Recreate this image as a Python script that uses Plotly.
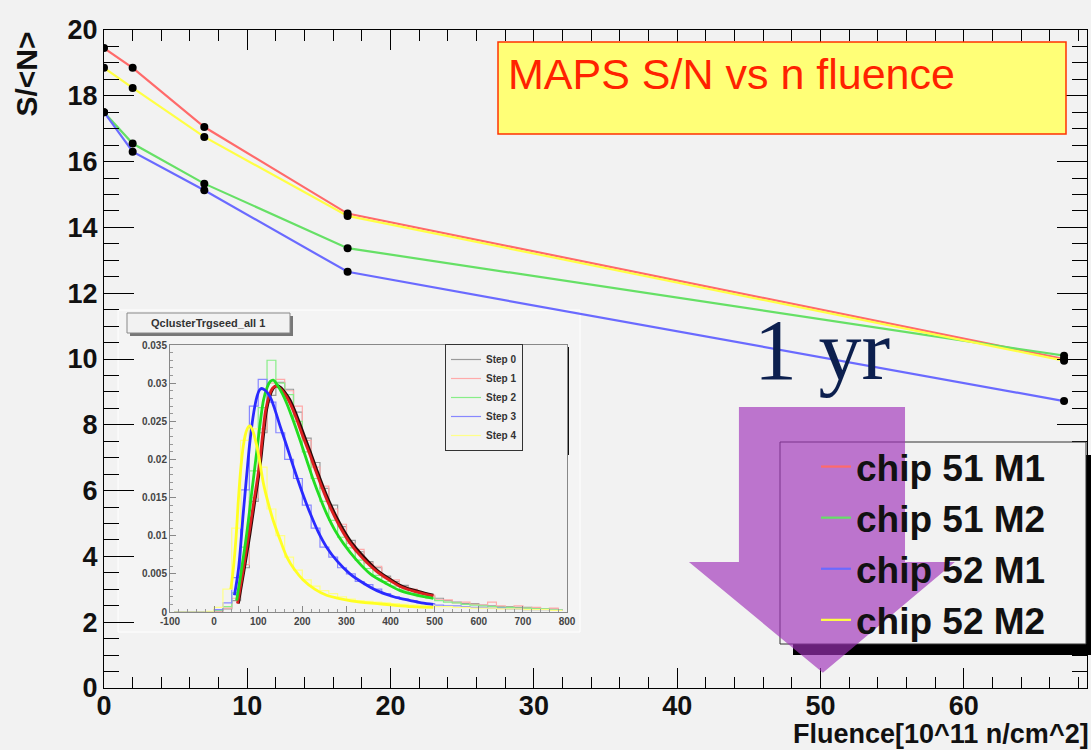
import plotly.graph_objects as go

# ---------------- main chart data ----------------
fluence = [0, 2, 7, 17, 67]
sn_51_m1 = [19.45, 18.85, 17.05, 14.42, 10.0]
sn_51_m2 = [17.5, 16.55, 15.33, 13.37, 10.1]
sn_52_m1 = [17.5, 16.3, 15.13, 12.65, 8.72]
sn_52_m2 = [18.85, 18.24, 16.75, 14.35, 9.95]

series_names = ["chip 51 M1", "chip 51 M2", "chip 52 M1", "chip 52 M2"]
series_values = [sn_51_m1, sn_51_m2, sn_52_m1, sn_52_m2]
series_colors = ["#ff6a6a", "#66e066", "#6a6aff", "#ffff44"]

# ---------------- inset data ----------------
bin_centers = [-90, -70, -50, -30, -10, 10, 30, 50, 70, 90, 110, 130, 150, 170, 190,
               210, 230, 250, 270, 290, 310, 330, 350, 370, 390, 410, 430, 450, 470, 490,
               510, 530, 550, 570, 590, 610, 630, 650, 670, 690, 710, 730, 750, 770, 790]
step0 = [0, 0, 0, 0, 0, 0.0001, 0.0004, 0.0015, 0.0058, 0.0145, 0.0235, 0.0284, 0.0301, 0.0292, 0.0262,
         0.0228, 0.0196, 0.0162, 0.0140, 0.0112, 0.0094, 0.0079, 0.0066, 0.0058, 0.0047, 0.0040, 0.0035,
         0.0029, 0.0024, 0.0021, 0.0018, 0.0015, 0.0013, 0.0011, 0.0011, 0.0009, 0.0008, 0.0007, 0.0007,
         0.0006, 0.0006, 0.0005, 0.0004, 0.0004, 0.0003]
step1 = [0, 0, 0, 0, 0, 0.0001, 0.0005, 0.0018, 0.0062, 0.0150, 0.0240, 0.0300, 0.0305, 0.0290, 0.0270,
         0.0225, 0.0190, 0.0165, 0.0135, 0.0115, 0.0090, 0.0082, 0.0064, 0.0060, 0.0045, 0.0042, 0.0033,
         0.0030, 0.0023, 0.0022, 0.0016, 0.0016, 0.0012, 0.0013, 0.0010, 0.0009, 0.0013, 0.0008, 0.0006,
         0.0008, 0.0005, 0.0006, 0.0004, 0.0005, 0.0003]
step2 = [0, 0, 0, 0, 0, 0.0002, 0.0007, 0.0025, 0.0085, 0.0185, 0.0268, 0.0330, 0.0300, 0.0285, 0.0250,
         0.0210, 0.0175, 0.0145, 0.0120, 0.0098, 0.0084, 0.0068, 0.0057, 0.0048, 0.0040, 0.0034, 0.0029,
         0.0024, 0.0020, 0.0018, 0.0015, 0.0013, 0.0012, 0.0010, 0.0009, 0.0008, 0.0007, 0.0006, 0.0006,
         0.0005, 0.0005, 0.0004, 0.0004, 0.0003, 0.0003]
step3 = [0, 0, 0, 0, 0, 0.0003, 0.0012, 0.0045, 0.0160, 0.0270, 0.0305, 0.0275, 0.0235, 0.0200, 0.0175,
         0.0140, 0.0110, 0.0085, 0.0072, 0.0058, 0.0050, 0.0040, 0.0036, 0.0030, 0.0024, 0.0020, 0.0017,
         0.0015, 0.0012, 0.0011, 0.0009, 0.0008, 0.0008, 0.0007, 0.0006, 0.0006, 0.0005, 0.0005, 0.0004,
         0.0004, 0.0003, 0.0003, 0.0003, 0.0002, 0.0002]
step4 = [0, 0, 0, 0, 0.0001, 0.0006, 0.0030, 0.0110, 0.0225, 0.0240, 0.0190, 0.0135, 0.0100, 0.0072, 0.0055,
         0.0042, 0.0034, 0.0028, 0.0024, 0.0020, 0.0017, 0.0015, 0.0014, 0.0013, 0.0012, 0.0011, 0.0010,
         0.0009, 0.0009, 0.0008, 0.0007, 0.0007, 0.0006, 0.0006, 0.0005, 0.0005, 0.0005, 0.0004, 0.0004,
         0.0004, 0.0003, 0.0003, 0.0003, 0.0002, 0.0002]
step_names = ["Step 0", "Step 1", "Step 2", "Step 3", "Step 4"]
step_hists = [step0, step1, step2, step3, step4]
step_hist_colors = ["#9a9a9a", "#ffaaaa", "#88ee88", "#8888ff", "#ffff88"]

fit0_x = [55, 68, 81.5, 93, 104, 112, 119, 127, 134, 142, 152, 163, 172, 187, 202.5, 218, 233, 248, 263, 285, 308, 338, 369, 399, 429, 463, 497]
fit0_y = [0.0011, 0.0055, 0.0103, 0.0148, 0.019, 0.0232, 0.0265, 0.0284, 0.0293, 0.0297, 0.0294, 0.0286, 0.0278, 0.0258, 0.0234, 0.021, 0.0186, 0.0163, 0.0142, 0.0116, 0.0094, 0.0073, 0.0055, 0.0043, 0.0033, 0.0027, 0.0022]
fit1_x = [53, 66, 79, 91, 102, 110, 117, 125, 132, 140, 150, 161, 170, 185, 200, 216, 231, 246, 261, 283, 306, 336, 367, 397, 427, 461, 497]
fit1_y = [0.0011, 0.0055, 0.0103, 0.0148, 0.019, 0.0232, 0.0265, 0.0284, 0.0293, 0.0296, 0.0293, 0.0285, 0.0276, 0.0256, 0.0232, 0.0208, 0.0184, 0.0161, 0.0140, 0.0114, 0.0092, 0.0071, 0.0054, 0.0042, 0.0032, 0.0026, 0.0021]
fit2_x = [51, 62, 74, 86, 97, 105, 112, 120, 127, 134, 145, 155, 165, 180, 195, 210, 225, 240, 255, 275, 293, 323, 354, 388, 422, 460, 497]
fit2_y = [0.0015, 0.0055, 0.0103, 0.0160, 0.0212, 0.0250, 0.0278, 0.0294, 0.0302, 0.0304, 0.0296, 0.0286, 0.0273, 0.0250, 0.0225, 0.0199, 0.0173, 0.0150, 0.0129, 0.0106, 0.0090, 0.0068, 0.0050, 0.0038, 0.0028, 0.0022, 0.0018]
fit3_x = [46, 55, 66, 74, 81.5, 90, 97, 103, 108, 117, 127, 138, 150, 165, 180, 199, 218, 236, 255, 280, 308, 338, 369, 407, 445, 470, 497]
fit3_y = [0.0022, 0.0055, 0.0129, 0.0180, 0.0225, 0.0262, 0.0282, 0.0291, 0.0293, 0.0290, 0.0282, 0.0265, 0.0243, 0.0217, 0.0190, 0.0158, 0.0129, 0.0105, 0.0085, 0.0066, 0.0050, 0.0038, 0.0028, 0.0020, 0.0015, 0.0012, 0.0010]
fit4_x = [38, 44, 50, 55, 60, 66, 72, 78, 81.5, 88, 97, 104, 112, 123, 134, 150, 165, 183, 202, 228, 255, 290, 331, 370, 406, 450, 497]
fit4_y = [0.0030, 0.0059, 0.0100, 0.0147, 0.0185, 0.0217, 0.0235, 0.0243, 0.0244, 0.0237, 0.0217, 0.0195, 0.0168, 0.0142, 0.0120, 0.0094, 0.0072, 0.0055, 0.0042, 0.0030, 0.0022, 0.0017, 0.0013, 0.0011, 0.0009, 0.0007, 0.0006]
fit_xs = [fit0_x, fit1_x, fit2_x, fit3_x, fit4_x]
fit_ys = [fit0_y, fit1_y, fit2_y, fit3_y, fit4_y]
fit_colors = ["#2a0a0a", "#dd2020", "#22dd22", "#2a2aff", "#ffff22"]

inset_y_ticks = [0, 0.005, 0.01, 0.015, 0.02, 0.025, 0.03, 0.035]
inset_y_labels = ["0", "0.005", "0.01", "0.015", "0.02", "0.025", "0.03", "0.035"]
inset_x_ticks = [-100, 0, 100, 200, 300, 400, 500, 600, 700, 800]
inset_x_labels = ["-100", "0", "100", "200", "300", "400", "500", "600", "700", "800"]

# ---------------- figure ----------------
W, H = 1091, 750
ML, MR, MT, MB = 104, 4, 30, 62
PW, PH = W - ML - MR, H - MT - MB


def px_x(p):
    return (p - ML) / PW


def px_y(p):
    return (H - MB - p) / PH


FONT = "Liberation Sans, Arial, sans-serif"
BG = "#f2f2f2"

fig = go.Figure()

# main lines
for name, vals, col in zip(series_names, series_values, series_colors):
    fig.add_trace(go.Scatter(x=fluence, y=vals, mode="lines", name=name,
                             line=dict(color=col, width=2.2), legend="legend"))
for vals in series_values:
    fig.add_trace(go.Scatter(x=fluence, y=vals, mode="markers", showlegend=False,
                             marker=dict(color="black", size=8), hoverinfo="skip"))

# inset histograms and fits
for name, vals, col in zip(step_names, step_hists, step_hist_colors):
    fig.add_trace(go.Scatter(x=bin_centers, y=vals, mode="lines", name=name,
                             line=dict(color=col, width=1.2, shape="hvh"),
                             xaxis="x2", yaxis="y2", legend="legend2"))
for fx, fy, col in zip(fit_xs, fit_ys, fit_colors):
    fig.add_trace(go.Scatter(x=fx, y=fy, mode="lines", showlegend=False,
                             line=dict(color=col, width=2.8, shape="spline"),
                             xaxis="x2", yaxis="y2"))

shapes = []
# inset panel
shapes.append(dict(type="rect", xref="paper", yref="paper", layer="below",
                   x0=px_x(118), x1=px_x(580), y0=px_y(632), y1=px_y(310),
                   fillcolor="#f4f4f4", line=dict(color="#ffffff", width=1)))
# inset title box with shadow
shapes.append(dict(type="rect", xref="paper", yref="paper", layer="below",
                   x0=px_x(130), x1=px_x(293), y0=px_y(336), y1=px_y(316),
                   fillcolor="#777777", line=dict(width=0)))
shapes.append(dict(type="rect", xref="paper", yref="paper", layer="below",
                   x0=px_x(127), x1=px_x(290), y0=px_y(333), y1=px_y(313),
                   fillcolor="#f2f2f2", line=dict(color="#888888", width=1)))
# inset legend shadow
shapes.append(dict(type="rect", xref="paper", yref="paper", layer="below",
                   x0=px_x(448), x1=px_x(569), y0=px_y(455), y1=px_y(347),
                   fillcolor="#111111", line=dict(width=0)))
# title box
shapes.append(dict(type="rect", xref="paper", yref="paper", layer="above",
                   x0=px_x(498), x1=px_x(1066), y0=px_y(134), y1=px_y(42),
                   fillcolor="#ffff77", line=dict(color="#ff3300", width=1.5)))
# main legend shadow + box
shapes.append(dict(type="rect", xref="paper", yref="paper", layer="above",
                   x0=px_x(793), x1=px_x(1091), y0=px_y(655), y1=px_y(455),
                   fillcolor="#000000", line=dict(width=0)))
shapes.append(dict(type="rect", xref="paper", yref="paper", layer="above",
                   x0=px_x(780), x1=px_x(1086), y0=px_y(644), y1=px_y(442),
                   fillcolor=BG, line=dict(color="#333333", width=1)))
# purple arrow (annotation shape)
shapes.append(dict(type="path", xref="x", yref="y", layer="above",
                   path="M 44.31,8.54 L 55.90,8.54 L 55.90,3.83 L 59.38,3.83 L 50.17,0.46 "
                        "L 40.82,3.83 L 44.31,3.83 Z",
                   fillcolor="rgba(160,50,185,0.66)", line=dict(width=0)))

annotations = [
    dict(text="MAPS S/N vs n fluence", xref="paper", yref="paper",
         x=px_x(506), y=px_y(74), xanchor="left", yanchor="middle", showarrow=False,
         font=dict(family=FONT, size=43, color="#ff2200")),
    dict(text="S/&lt;N&gt;", xref="paper", yref="paper", textangle=-90,
         x=px_x(26), y=px_y(30), xanchor="center", yanchor="top", showarrow=False,
         font=dict(family=FONT, size=30, color="#111111", weight="bold")),
    dict(text="Fluence[10^11 n/cm^2]", xref="paper", yref="paper",
         x=px_x(1090), y=px_y(750), xanchor="right", yanchor="bottom", showarrow=False,
         borderpad=0,
         font=dict(family=FONT, size=27, color="#111111", weight="bold")),
    dict(text="1 yr", xref="paper", yref="paper",
         x=px_x(822), y=px_y(350), xanchor="center", yanchor="middle", showarrow=False,
         font=dict(family="Liberation Serif, Times New Roman, serif", size=86, color="#0c1f4e")),
    dict(text="QclusterTrgseed_all 1", xref="paper", yref="paper",
         x=px_x(208), y=px_y(323), xanchor="center", yanchor="middle", showarrow=False,
         font=dict(family=FONT, size=11, color="#333333", weight="bold")),
]

axis_font = dict(family=FONT, size=27, color="#111111", weight="bold")
inset_font = dict(family=FONT, size=10, color="#444444", weight="bold")
fig.update_layout(
    width=W, height=H,
    margin=dict(l=ML, r=MR, t=MT, b=MB, autoexpand=False),
    paper_bgcolor=BG, plot_bgcolor=BG,
    showlegend=True,
    xaxis=dict(range=[0, 68.6], showgrid=False, zeroline=False, showline=True, automargin=False,
               linecolor="black", linewidth=1, mirror="ticks",
               ticks="inside", ticklen=20, tickwidth=1, tickcolor="black",
               dtick=10, tick0=0, tickfont=axis_font, ticklabelstandoff=-6,
               minor=dict(dtick=2, ticks="inside", ticklen=11, tickcolor="black", showgrid=False)),
    yaxis=dict(range=[0, 20], showgrid=False, zeroline=False, showline=True, automargin=False,
               linecolor="black", linewidth=1, mirror="ticks",
               ticks="inside", ticklen=30, tickwidth=1, tickcolor="black",
               dtick=2, tick0=0, tickfont=axis_font,
               minor=dict(dtick=0.5, ticks="inside", ticklen=15, tickcolor="black", showgrid=False)),
    xaxis2=dict(domain=[px_x(170), px_x(567)], anchor="y2", range=[-100, 800], automargin=False,
                showgrid=False, zeroline=False, showline=True, linecolor="#888888", mirror=True,
                ticks="inside", ticklen=6, tickcolor="#888888",
                tickvals=inset_x_ticks, ticktext=inset_x_labels, tickfont=inset_font,
                minor=dict(dtick=20, ticks="inside", ticklen=3, tickcolor="#999999")),
    yaxis2=dict(domain=[px_y(612), px_y(345)], anchor="x2", range=[0, 0.035], automargin=False,
                showgrid=False, zeroline=False, showline=True, linecolor="#888888", mirror=True,
                ticks="inside", ticklen=6, tickcolor="#888888",
                tickvals=inset_y_ticks, ticktext=inset_y_labels, tickfont=inset_font,
                minor=dict(dtick=0.001, ticks="inside", ticklen=3, tickcolor="#999999")),
    legend=dict(x=px_x(816), y=px_y(436), xanchor="left", yanchor="top",
                bgcolor="rgba(0,0,0,0)", borderwidth=0, tracegroupgap=0,
                font=dict(family=FONT, size=37, color="#111111", weight="bold"), itemwidth=30),
    legend2=dict(x=px_x(445), y=px_y(344), xanchor="left", yanchor="top",
                 bgcolor="#f2f2f2", bordercolor="#333333", borderwidth=1, tracegroupgap=0,
                 font=dict(family=FONT, size=10, color="#333333", weight="bold"), itemwidth=30),
    shapes=shapes,
    annotations=annotations,
)

fig.write_html("out.html", config={"displayModeBar": False},
               post_script="document.body.style.margin='0px';")
